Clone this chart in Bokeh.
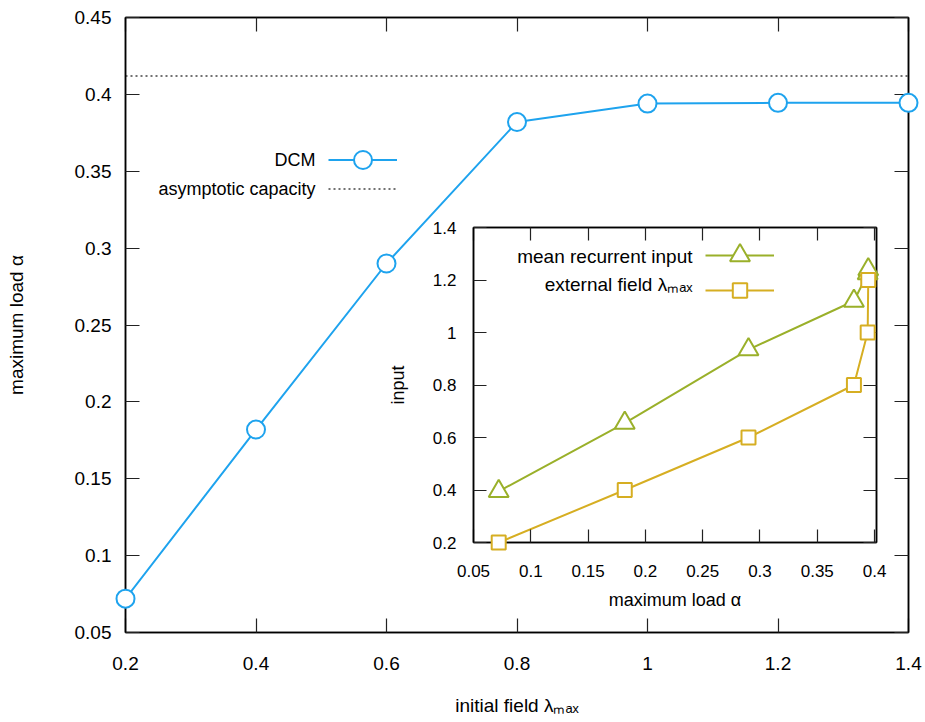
from bokeh.plotting import figure
from bokeh.models import (Range1d, LinearAxis, FixedTicker, NumeralTickFormatter,
                          Legend, LegendItem, Label, CustomLabelingPolicy)
from bokeh.layouts import column
from bokeh.embed import file_html
from bokeh.resources import INLINE

# ---- data ----
lam = [0.2, 0.4, 0.6, 0.8, 1.0, 1.2, 1.4]
alpha_max = [0.072, 0.182, 0.290, 0.382, 0.394, 0.3945, 0.3945]
capacity = 0.412

inset_alpha = [0.072, 0.182, 0.290, 0.382, 0.394, 0.3945]
recurrent = [0.395, 0.655, 0.935, 1.12, 1.225, 1.24]
external = [0.2, 0.4, 0.6, 0.8, 1.0, 1.2]

main_xticks = [0.2, 0.4, 0.6, 0.8, 1.0, 1.2, 1.4]
main_yticks = [0.05, 0.1, 0.15, 0.2, 0.25, 0.3, 0.35, 0.4, 0.45]
inset_xticks = [0.05, 0.1, 0.15, 0.2, 0.25, 0.3, 0.35, 0.4]
inset_yticks = [0.2, 0.4, 0.6, 0.8, 1.0, 1.2, 1.4]

BLUE = "#1EA3EE"
OLIVE = "#9AB02A"
GOLD = "#D6AE22"
FONT = "Liberation Sans"

NO_LABELS = "for (let i = 0; i < indices.size; i++) { indices.unset(i) }\nreturn indices"


def style_axis(ax, ticks, fs, standoff, tick_len, labels=True):
    ax.ticker = FixedTicker(ticks=ticks)
    ax.formatter = NumeralTickFormatter(format="0.[00]")
    ax.major_tick_in = tick_len
    ax.major_tick_out = 0
    ax.minor_tick_line_color = None
    ax.axis_line_color = "black"
    ax.axis_line_width = 1.5
    ax.major_tick_line_color = "#222222"
    ax.major_tick_line_width = 1.2
    ax.major_label_text_font = FONT
    ax.major_label_text_color = "black"
    ax.major_label_text_font_size = fs if labels else "0px"
    ax.major_label_standoff = standoff if labels else 0
    if not labels:
        ax.major_label_policy = CustomLabelingPolicy(code=NO_LABELS)
    ax.axis_label_text_font = FONT
    ax.axis_label_text_font_style = "normal"
    ax.axis_label_text_color = "black"


def add_mirror(p, ticks_x, ticks_y, tick_len):
    top = LinearAxis()
    style_axis(top, ticks_x, "0px", 0, tick_len, labels=False)
    p.add_layout(top, "above")
    right = LinearAxis()
    style_axis(right, ticks_y, "0px", 0, tick_len, labels=False)
    p.add_layout(right, "right")


def key_item(p, renderers, vx, vy, gh):
    leg = Legend(items=[LegendItem(label=" ", renderers=renderers)],
                 location=(vx, vy), glyph_width=69, glyph_height=gh,
                 padding=0, margin=0, spacing=0, label_standoff=0,
                 label_width=0, label_height=0, label_text_font_size="1px",
                 border_line_alpha=0, background_fill_alpha=0)
    p.add_layout(leg)


def key_text(p, text, x, y, fs):
    p.add_layout(Label(x=x, y=y, x_units="screen", y_units="screen", text=text,
                       text_align="right", text_baseline="middle",
                       text_font=FONT, text_font_size=fs, text_color="black"))


# ---- main figure ----
p = figure(width=923, height=720, x_range=Range1d(0.2, 1.4), y_range=Range1d(0.05, 0.45),
           output_backend="svg", toolbar_location=None,
           min_border_left=125, min_border_right=15, min_border_top=17, min_border_bottom=88)
p.xgrid.visible = False
p.ygrid.visible = False
p.outline_line_color = "black"
p.outline_line_width = 1.5
p.background_fill_color = "white"
p.border_fill_color = "white"

style_axis(p.xaxis[0], main_xticks, "19px", 24, 14)
style_axis(p.yaxis[0], main_yticks, "19px", 14, 14)
p.xaxis[0].axis_label = "initial field λₘₐₓ"
p.xaxis[0].axis_label_text_font_size = "19px"
p.xaxis[0].axis_label_standoff = 22
p.yaxis[0].axis_label = "maximum load α"
p.yaxis[0].axis_label_text_font_size = "19px"
p.yaxis[0].axis_label_standoff = 45
add_mirror(p, main_xticks, main_yticks, 14)

cap_line = p.line([lam[0], lam[-1]], [capacity, capacity], line_color="#444444",
                  line_width=1.6, line_dash="2 3")
dcm_line = p.line(lam, alpha_max, line_color=BLUE, line_width=2)
dcm_pts = p.scatter(lam, alpha_max, marker="circle", size=18, line_color=BLUE,
                    line_width=2, fill_color="white", level="overlay")

key_item(p, [dcm_line, dcm_pts], 203, 450, 45)
key_item(p, [cap_line], 203, 421, 45)
key_text(p, "DCM", 190, 473, "18px")
key_text(p, "asymptotic capacity", 190, 444, "18px")

# ---- inset figure ----
# (its left border is aligned by the column layout with the main figure's left border)
q = figure(width=543, height=397, x_range=Range1d(0.05, 0.4017), y_range=Range1d(0.2, 1.4),
           output_backend="svg", toolbar_location=None,
           min_border_left=125, min_border_right=10, min_border_top=10, min_border_bottom=72)
q.xgrid.visible = False
q.ygrid.visible = False
q.outline_line_color = "black"
q.outline_line_width = 1.5
q.background_fill_alpha = 0
q.border_fill_alpha = 0

style_axis(q.xaxis[0], inset_xticks, "17px", 22, 13)
style_axis(q.yaxis[0], inset_yticks, "17px", 17, 13)
q.xaxis[0].axis_label = "maximum load α"
q.xaxis[0].axis_label_text_font_size = "18px"
q.xaxis[0].axis_label_standoff = 10
q.yaxis[0].axis_label = "input"
q.yaxis[0].axis_label_text_font_size = "18px"
q.yaxis[0].axis_label_standoff = 22
add_mirror(q, inset_xticks, inset_yticks, 13)

rec_line = q.line(inset_alpha, recurrent, line_color=OLIVE, line_width=2)
rec_pts = q.scatter(inset_alpha, recurrent, marker="triangle", size=20, line_color=OLIVE,
                    line_width=2, fill_color="white", level="overlay")
ext_line = q.line(inset_alpha, external, line_color=GOLD, line_width=2)
ext_pts = q.scatter(inset_alpha, external, marker="square", size=14, line_color=GOLD,
                    line_width=2, fill_color="white", level="overlay")

key_item(q, [rec_line, rec_pts], 232, 262, 50)
key_item(q, [ext_line, ext_pts], 232, 234, 36)
key_text(q, "mean recurrent input", 219, 286, "19px")
key_text(q, "external field λₘₐₓ", 219, 258, "19px")

q.margin = (-503, 0, 0, 348)

layout = column(p, q)
open("out.html", "w").write(file_html(layout, INLINE))
